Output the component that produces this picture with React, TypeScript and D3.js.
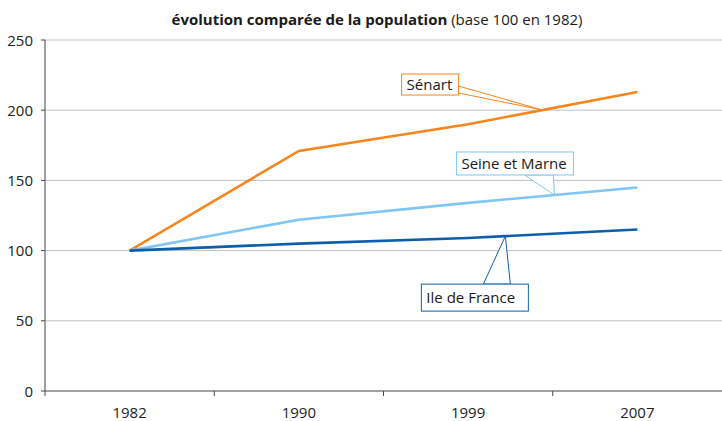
import React from "react";
import * as d3 from "d3";

const years = ["1982", "1990", "1999", "2007"];
const senart = [100, 171, 190, 213];
const seineEtMarne = [100, 122, 134, 145];
const ileDeFrance = [100, 105, 109, 115];
const yTicks = [0, 50, 100, 150, 200, 250];

const W = 722, H = 421;
const m = { left: 45, right: 0, top: 40, bottom: 30 };
const FONT = "'Open Sans', 'DejaVu Sans', sans-serif";
const FS = 15;

const series = [
  { name: "Sénart", values: senart, color: "#F7861E" },
  { name: "Seine et Marne", values: seineEtMarne, color: "#80C6F4" },
  { name: "Ile de France", values: ileDeFrance, color: "#0D5EAB" },
];

// callout layout: segment index + fraction for tip, box geometry relative to tip, wedge base points relative to tip
const callouts = [
  { s: 0, seg: 2, t: 0.44, box: [-141, -36, 57, 21], base: [[-84, -24], [-84, -17]] },
  { s: 1, seg: 2, t: 0.51, box: [-98, -43, 117, 23], base: [[-30, -20], [-1, -20]] },
  { s: 2, seg: 2, t: 0.22, box: [-84, 48, 107, 27], base: [[-22, 48], [5, 48]] },
];

export default function App() {
  const x = d3.scaleBand<string>().domain(years).range([m.left, W - m.right]);
  const y = d3.scaleLinear().domain([0, 250]).range([H - m.bottom, m.top]);
  const cx = (i: number) => (x(years[i]) as number) + x.bandwidth() / 2;
  const line = d3
    .line<number>()
    .x((_, i) => cx(i))
    .y((d) => y(d));

  return (
    <svg width={W} height={H} style={{ position: "absolute", left: 0, top: 0, fontFamily: FONT }}>
      <rect width={W} height={H} fill="#fff" />
      <text x={377} y={25} textAnchor="middle" fontSize={FS} fill="#1a1a1a">
        <tspan fontWeight="bold">évolution comparée de la population</tspan>
        <tspan> (base 100 en 1982)</tspan>
      </text>
      {yTicks.map((t) => (
        <g key={t}>
          {t > 0 && (
            <line x1={m.left} x2={W - m.right} y1={y(t)} y2={y(t)} stroke="#C0C0C0" strokeWidth={1} />
          )}
          <line x1={m.left - 4} x2={m.left} y1={y(t)} y2={y(t)} stroke="#444" />
          <text x={33} y={y(t) + 5.5} textAnchor="end" fontSize={FS} fill="#222">
            {t}
          </text>
        </g>
      ))}
      <line x1={m.left} x2={m.left} y1={y(250)} y2={y(0)} stroke="#444" />
      <line x1={m.left} x2={W} y1={y(0)} y2={y(0)} stroke="#444" />
      {years.map((yr, i) => (
        <g key={yr}>
          <line x1={x(yr) as number} x2={x(yr) as number} y1={y(0)} y2={y(0) + 5} stroke="#444" />
          <text x={cx(i)} y={y(0) + 27} textAnchor="middle" fontSize={FS} fill="#222">
            {yr}
          </text>
        </g>
      ))}
      {series.map((s) => (
        <path key={s.name} d={line(s.values) || ""} fill="none" stroke={s.color} strokeWidth={2.6} />
      ))}
      {callouts.map((c) => {
        const s = series[c.s];
        const tx = cx(c.seg) + (cx(c.seg + 1) - cx(c.seg)) * c.t;
        const ty = y(s.values[c.seg] + (s.values[c.seg + 1] - s.values[c.seg]) * c.t);
        const [bx, by, bw, bh] = c.box;
        const [[ax, ay], [bx2, by2]] = c.base;
        return (
          <g key={s.name}>
            <polygon
              points={`${tx + ax},${ty + ay} ${tx},${ty} ${tx + bx2},${ty + by2}`}
              fill="#fff"
              stroke={s.color}
              strokeWidth={1}
            />
            <rect x={tx + bx} y={ty + by} width={bw} height={bh} fill="#fff" stroke={s.color} strokeWidth={1} />
            <text x={tx + bx + 5} y={ty + by + bh / 2 + 5.5} fontSize={FS} fill="#1a1a1a">
              {s.name}
            </text>
          </g>
        );
      })}
    </svg>
  );
}
